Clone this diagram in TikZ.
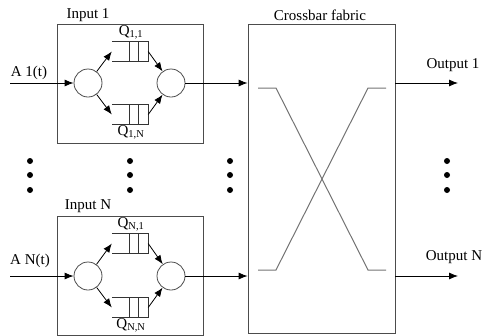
\documentclass[tikz,border=0pt]{standalone}
\usepackage{fontspec}
\setmainfont{Liberation Serif}
\usetikzlibrary{arrows.meta}
\tikzset{
  box/.style={draw=black!70, line width=0.8pt, inner sep=0pt},
  sw/.style={circle, draw=black!70, line width=0.8pt, minimum size=28pt, inner sep=0pt},
  qslot/.style={minimum width=36pt, minimum height=19pt, inner sep=0pt},
  qline/.style={draw=black!80, line width=0.8pt},
  lbl/.style={font=\fontsize{15}{18}\selectfont, inner sep=0pt},
  arr/.style={-{Latex[length=9pt,width=7pt]}, line width=0.8pt},
}
\begin{document}
\begin{tikzpicture}[x=1pt,y=-1pt]
  \useasboundingbox (0,0) rectangle (484,335);

  % draw the input boxes and the fabric
  \node[box, minimum width=146pt, minimum height=119pt] (in1) at (130,83.5) {};
  \node[box, minimum width=146pt, minimum height=119pt] (inN) at (130,275.5) {};
  \node[box, minimum width=147pt, minimum height=309pt] (fabric) at (321.5,178.5) {};

  % labels of the boxes
  \node[lbl] (in1lbl) at (88,15) {Input 1};
  \node[lbl] (inNlbl) at (88,206) {Input N};
  \node[lbl] (fablbl) at (320,15) {Crossbar fabric};

  % draw the split and merge circles
  \node[sw] (split1) at (88,83) {};
  \node[sw] (merge1) at (171,83) {};
  \node[sw] (splitN) at (88,276) {};
  \node[sw] (mergeN) at (171,276) {};

  % the queue slots
  \node[qslot] (q11) at (130,51.5) {};
  \node[qslot] (q1N) at (130,114.5) {};
  \node[qslot] (qN1) at (130,243.5) {};
  \node[qslot] (qNN) at (130,307.5) {};

  % draw each queue, open on the left
  \foreach \q in {q11,q1N,qN1,qNN}{
    \draw[qline] (\q.north west) -- (\q.north east) -- (\q.south east) -- (\q.south west);
    \draw[qline] ([xshift=-10pt]\q.north east) -- ([xshift=-10pt]\q.south east);
    \draw[qline] ([xshift=-19pt]\q.north east) -- ([xshift=-19pt]\q.south east);
  }

  % queue labels
  \node[lbl] (q11lbl) at (131,32) {Q\textsubscript{1,1}};
  \node[lbl] (q1Nlbl) at (131,132) {Q\textsubscript{1,N}};
  \node[lbl] (qN1lbl) at (131,224) {Q\textsubscript{N,1}};
  \node[lbl] (qNNlbl) at (131,325) {Q\textsubscript{N,N}};

  % arrows inside the input boxes
  \draw[arr] (split1) -- (q11.west);
  \draw[arr] (split1) -- (q1N.west);
  \draw[arr] (q11.east) -- (merge1);
  \draw[arr] (q1N.east) -- (merge1);
  \draw[arr] (splitN) -- (qN1.west);
  \draw[arr] (splitN) -- (qNN.west);
  \draw[arr] (qN1.east) -- (mergeN);
  \draw[arr] (qNN.east) -- (mergeN);

  % arrivals
  \coordinate (a1) at (10,83);
  \coordinate (aN) at (10,276);
  \draw[arr] (a1) -- (split1);
  \draw[arr] (aN) -- (splitN);
  \node[lbl] (a1lbl) at (29,73) {A 1(t)};
  \node[lbl] (aNlbl) at (30,261) {A N(t)};

  % into the fabric
  \draw[arr] (merge1) -- (merge1 -| fabric.west);
  \draw[arr] (mergeN) -- (mergeN -| fabric.west);

  % crossing paths in the fabric
  \draw[black!55, line width=1pt] (258,88) -- (276,88) -- (368,270) -- (386,270);
  \draw[black!55, line width=1pt] (386,88) -- (368,88) -- (276,270) -- (258,270);

  % outputs
  \coordinate (o1) at (458,83);
  \coordinate (oN) at (458,276);
  \draw[arr] (fabric.east |- o1) -- (o1);
  \draw[arr] (fabric.east |- oN) -- (oN);
  \node[lbl] (o1lbl) at (453,65) {Output 1};
  \node[lbl] (oNlbl) at (454,257) {Output N};

  % the dots
  \foreach \x in {30,130,230,447}
    \foreach \y in {161,175,190}
      \fill (\x,\y) circle (3pt);
\end{tikzpicture}
\end{document}
